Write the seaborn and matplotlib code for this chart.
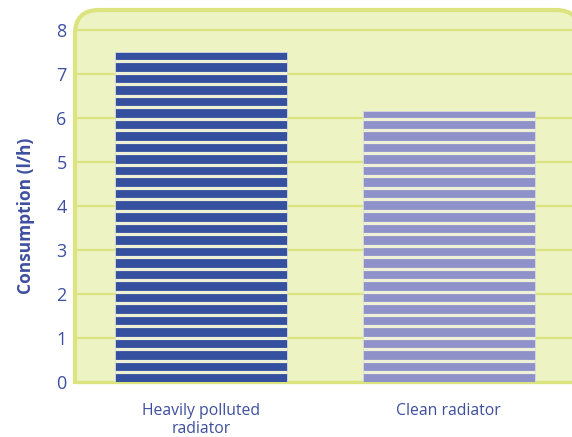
import numpy as np
import pandas as pd
import matplotlib
matplotlib.use("Agg")
import matplotlib.pyplot as plt
import seaborn as sns
from matplotlib.patches import FancyBboxPatch
from matplotlib.transforms import Bbox

# dados
categorias = ["Heavily polluted\nradiator", "Clean radiator"]
consumo = [7.5, 6.15]
cores = ["#34509e", "#8e92c8"]
yticks = [0, 1, 2, 3, 4, 5, 6, 7, 8]

fundo = "#edf3c3"
borda = "#dbe47f"
texto = "#3e4f9f"

sns.set_theme(style="white")
plt.rcParams["font.family"] = ["Open Sans", "DejaVu Sans"]

W, H = 572, 437
fig = plt.figure(figsize=(W / 100, H / 100), dpi=100)
fig.patch.set_facecolor("white")

# eixo em pixels: esquerda 75, direita 572, base 382 (y=0), topo 10
ax = fig.add_axes([75 / W, (H - 382) / H, (572 - 75) / W, (382 - 10) / H])
ax.set_facecolor("none")

# caixa de fundo com cantos arredondados em cima (passa da borda direita)
caixa = FancyBboxPatch((75, H - 382 - 40), 580 - 75, 382 - 10 + 40,
                       boxstyle="round,pad=0,rounding_size=24",
                       facecolor=fundo, edgecolor=borda, linewidth=3,
                       transform=None, zorder=-5)
caixa.set_clip_box(Bbox.from_extents(0, H - 383.5, W, H))
fig.patches.append(caixa)

df = pd.DataFrame({"cat": categorias, "valor": consumo})
sns.barplot(data=df, x="cat", y="valor", hue="cat", palette=cores,
            saturation=1, width=0.695, edgecolor="#d5d8e6", linewidth=0.6,
            legend=False, ax=ax, zorder=3)

ax.set_ylim(0, 8.45)
ax.set_xlim(-0.51, 1.499)

# linhas de grade
for v in yticks:
    ax.axhline(v, color=borda, lw=1.6 if v > 0 else 2.4, zorder=1, clip_on=False)

# listras horizontais nas barras
passo = 0.262
for p in ax.patches:
    x0 = p.get_x()
    x1 = x0 + p.get_width()
    h = p.get_height()
    ys = np.arange(0.216, h, passo)
    ax.hlines(ys, x0, x1, colors="#eef1d6", linewidth=2.3, zorder=4)

for s in ax.spines.values():
    s.set_visible(False)

ax.set_yticks(yticks)
ax.tick_params(axis="y", length=0, pad=6, labelsize=13, labelcolor=texto)
ax.tick_params(axis="x", length=0, pad=15, labelsize=11.3, labelcolor=texto)
ax.set_xlabel("")
ax.set_ylabel("Consumption (l/h)", fontsize=12.5, fontweight="bold", color=texto)
ax.yaxis.set_label_coords(-0.081, 0.446)
ax.grid(False)

fig.savefig("out.png", dpi=100)
